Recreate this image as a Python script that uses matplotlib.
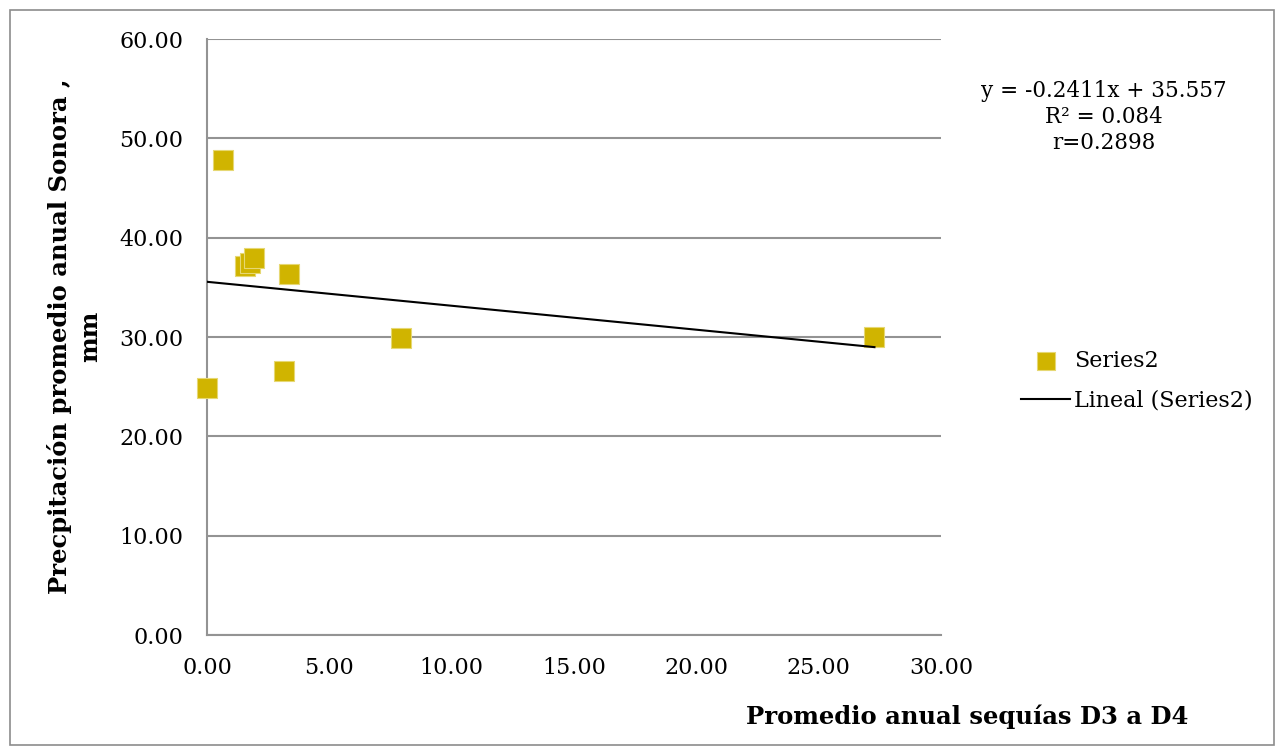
import numpy as np
import matplotlib
matplotlib.use("Agg")
import matplotlib.pyplot as plt
from matplotlib.patches import Rectangle

# Datos
sequias = [0.65, 1.55, 1.76, 1.92, 3.35, 3.13, 0.0, 7.93, 27.28]
precip = [47.8, 37.1, 37.5, 38.0, 36.35, 26.6, 24.9, 29.9, 30.0]

# linea de tendencia (ecuacion de Excel)
pendiente = -0.2411
intercepto = 35.557
eq_lines = ["y = -0.2411x + 35.557", "R² = 0.084", "r=0.2898"]

yticks = [0, 10, 20, 30, 40, 50, 60]
xticks = [0, 5, 10, 15, 20, 25, 30]

plt.rcParams["font.family"] = ["DejaVu Serif"]

fig = plt.figure(figsize=(12.77, 7.46), dpi=100)
ax = fig.add_axes([207/1277, 1 - 635/746, (941-207)/1277, (635-39)/746])

# borde exterior del grafico
fig.patches.append(Rectangle((10/1277, 0.001), 1 - 10/1277 - 0.002, 1 - 10/746 - 0.001,
                             transform=fig.transFigure, fill=False, edgecolor="#8c8c8c",
                             linewidth=1.2))

ax.scatter(sequias, precip, marker="s", s=200, color="#d0b400", edgecolors="#e6d873",
           linewidths=0.8, zorder=3, label="Series2", clip_on=False)
xs = np.array([min(sequias), max(sequias)])
ax.plot(xs, pendiente * xs + intercepto, color="black", linewidth=1.5, zorder=4,
        label="Lineal (Series2)")

ax.set_xlim(0, 30)
ax.set_ylim(0, 60)
ax.set_xticks(xticks)
ax.set_yticks(yticks)
ax.set_xticklabels(["%.2f" % v for v in xticks])
ax.set_yticklabels(["%.2f" % v for v in yticks])
ax.tick_params(length=0, labelsize=16)
ax.tick_params(axis="y", pad=17)
ax.tick_params(axis="x", pad=16)
ax.grid(axis="y", color="#939393", linewidth=1.5)
ax.set_axisbelow(True)
for s in ["top", "right"]:
    ax.spines[s].set_visible(False)
for s in ["left", "bottom"]:
    ax.spines[s].set_color("#939393")
    ax.spines[s].set_linewidth(1.5)

fig.text(60/1277, 1 - 336/746, "Precpitación promedio anual Sonora ,", rotation=90,
         ha="center", va="center", fontsize=17.5, fontweight="bold")
fig.text(90/1277, 1 - 336/746, "mm", rotation=90, ha="center", va="center",
         fontsize=17.5, fontweight="bold")
fig.text(967/1277, 1 - 717/746, "Promedio anual sequías D3 a D4", ha="center", va="center",
         fontsize=17.5, fontweight="bold")

fig.text(1104/1277, 1 - 117/746, "\n".join(eq_lines), ha="center", va="center",
         fontsize=15.5, linespacing=1.25)

fig.legend(loc="center left", bbox_to_anchor=(1010/1277, 1 - 381/746), frameon=False,
           fontsize=16, handlelength=2.2, markerscale=0.9, labelspacing=0.8,
           handletextpad=0.2, borderpad=0)

fig.savefig("out.png", dpi=100)
